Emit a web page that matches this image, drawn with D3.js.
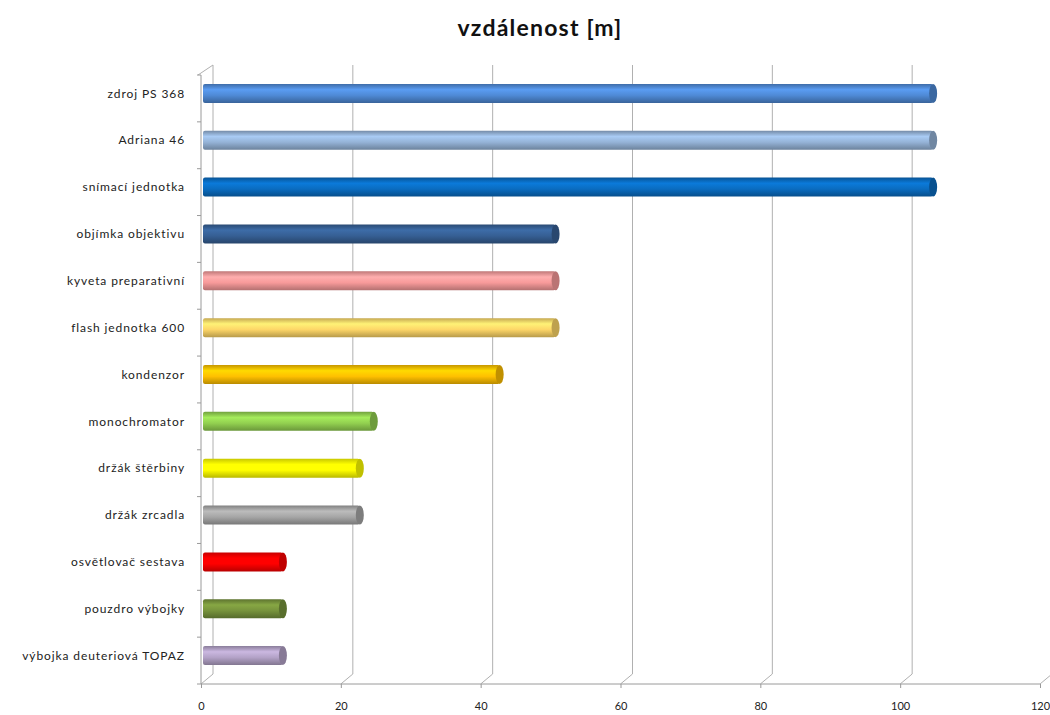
<!DOCTYPE html>
<html>
<head>
<meta charset="utf-8">
<script src="https://cdn.jsdelivr.net/npm/d3@7"></script>
<style>
  body { margin: 0; background: #fff; }
  text { font-family: Lato, "Open Sans", sans-serif; }
</style>
</head>
<body>
<div class="chart"></div>
<script>
var categories = ["zdroj PS 368", "Adriana 46", "snímací jednotka", "objímka objektivu",
  "kyveta preparativní", "flash jednotka 600", "kondenzor", "monochromator",
  "držák štěrbiny", "držák zrcadla", "osvětlovač sestava", "pouzdro výbojky",
  "výbojka deuteriová TOPAZ"]
var values = [105, 105, 105, 51, 51, 51, 43, 25, 23, 23, 12, 12, 12]
var colors = ["#4f8ad6", "#95b3d7", "#0a6cc0", "#365f94", "#f79a9a", "#fdd668",
  "#ffc000", "#92d050", "#ffff00", "#a6a6a6", "#ff0000", "#77933c", "#b3a2c7"]
var xTicks = [0, 20, 40, 60, 80, 100, 120]

var width = 1050,
  height = 715,
  dx = 12, dy = -10   // depth of the 3D walls

var svg = d3.select(".chart").append("svg")
  .attr("width", width)
  .attr("height", height)

var x = d3.scaleLinear().domain([0, 120]).range([201, 1040])
var y = d3.scaleBand().domain(categories).range([75, 684])

var grid = svg.append("g").attr("stroke", "#b0b0b0").attr("fill", "none")

// back wall gridlines + floor diagonals
grid.selectAll("path.gl")
  .data(xTicks)
  .enter().append("path")
  .attr("class", "gl")
  .attr("d", function(d) {
    var fx = x(d), bx = x(d) + dx
    return "M" + bx + "," + (75 + dy) + "V" + (684 + dy) + "L" + fx + ",684"
  })

// left wall top diagonal
grid.append("path")
  .attr("d", "M" + (x(0) - 3) + ",75L" + (x(0) + dx) + "," + (75 + dy))

// front axes
svg.append("path")
  .attr("stroke", "#9a9a9a").attr("fill", "none")
  .attr("d", "M" + x(0) + ",75V684H" + x(120))

// category boundary ticks
var bounds = categories.map(function(c) { return y(c) }).concat([y.range()[1]])
svg.append("g").selectAll("line")
  .data(bounds)
  .enter().append("line")
  .attr("x1", x(0) - 4).attr("x2", x(0))
  .attr("y1", function(d) { return d }).attr("y2", function(d) { return d })
  .attr("stroke", "#9a9a9a")

// x axis
var xAxis = svg.append("g")
  .attr("transform", "translate(0,684)")
  .call(d3.axisBottom(x).tickValues(xTicks).tickSize(4).tickPadding(14))
xAxis.select(".domain").remove()
xAxis.selectAll("line").attr("stroke", "#9a9a9a")
xAxis.selectAll("text").attr("font-size", 11).attr("fill", "#222")

// gradients for cylinders
var defs = svg.append("defs")
colors.forEach(function(c, i) {
  var g = defs.append("linearGradient")
    .attr("id", "grad" + i)
    .attr("x1", 0).attr("y1", 0).attr("x2", 0).attr("y2", 1)
  var base = d3.color(c)
  g.append("stop").attr("offset", "0%").attr("stop-color", d3.color(c).darker(0.7))
  g.append("stop").attr("offset", "30%").attr("stop-color", d3.color(c).brighter(0.35))
  g.append("stop").attr("offset", "60%").attr("stop-color", base)
  g.append("stop").attr("offset", "100%").attr("stop-color", d3.color(c).darker(0.9))
})

var barH = 19
var bars = svg.append("g").selectAll("g")
  .data(categories)
  .enter().append("g")
  .attr("transform", function(d) {
    return "translate(0," + (y(d) + y.bandwidth() / 2 - 5) + ")"
  })

bars.append("rect")
  .attr("x", x(0) + 2)
  .attr("y", -barH / 2)
  .attr("height", barH)
  .attr("width", function(d, i) { return x(values[i]) - x(0) - 4 })
  .attr("rx", 2)
  .attr("fill", function(d, i) { return "url(#grad" + i + ")" })

bars.append("ellipse")
  .attr("cx", function(d, i) { return x(values[i]) - 2 })
  .attr("cy", 0)
  .attr("rx", 4)
  .attr("ry", barH / 2)
  .attr("fill", function(d, i) { return d3.color(colors[i]).darker(0.8) })

// category labels
svg.append("g").selectAll("text")
  .data(categories)
  .enter().append("text")
  .attr("x", 185)
  .attr("y", function(d) { return y(d) + y.bandwidth() / 2 - 5 })
  .attr("dy", "0.35em")
  .attr("text-anchor", "end")
  .attr("font-family", "'Open Sans', sans-serif")
  .attr("font-size", 12)
  .attr("letter-spacing", 0.9)
  .attr("fill", "#222")
  .text(function(d) { return d })

// title
svg.append("text")
  .attr("x", 540)
  .attr("y", 36)
  .attr("text-anchor", "middle")
  .attr("font-size", 23)
  .attr("font-weight", "bold")
  .attr("letter-spacing", 1.2)
  .attr("fill", "#111")
  .text("vzdálenost [m]")
</script>
</body>
</html>
